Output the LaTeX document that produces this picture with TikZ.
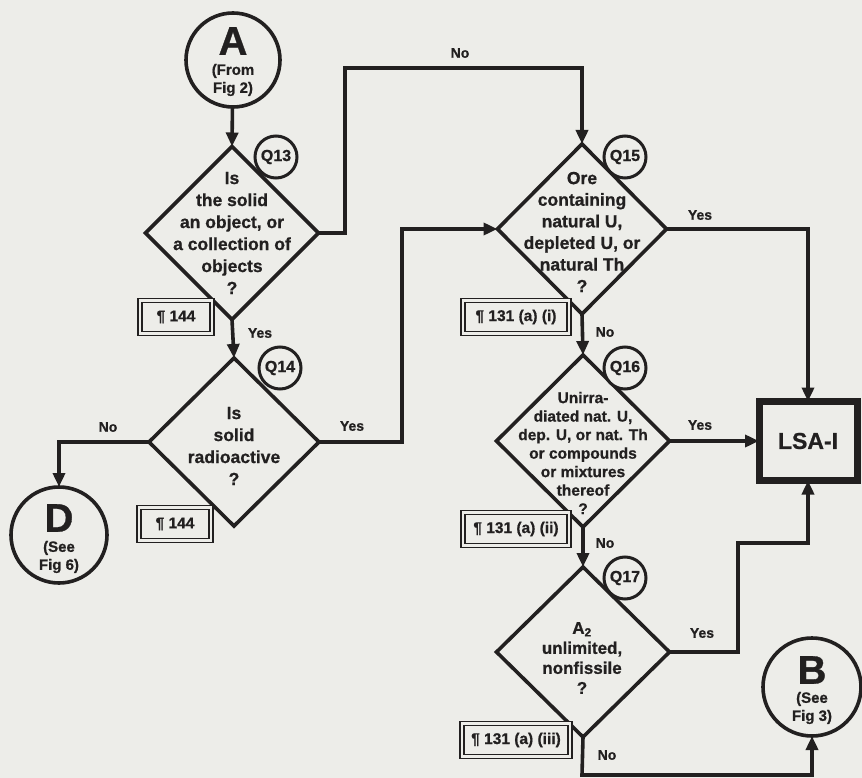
\documentclass[tikz,border=0pt]{standalone}
\usepackage{fontspec}
\setmainfont{Liberation Sans}[BoldFeatures={FakeBold=0.8}]
\usetikzlibrary{shapes.geometric,arrows.meta}
\definecolor{ink}{RGB}{34,32,32}
\definecolor{paper}{RGB}{237,237,233}
\begin{document}
\begin{tikzpicture}[x=1pt,y=-1pt,
  every node/.style={text=ink},
  flow/.style={draw=ink, line width=3.6pt},
  arr/.style={flow,-{Triangle[length=14pt,width=12pt]}},
  dia/.style={diamond, draw=ink, line width=3.6pt, inner sep=0pt, outer sep=0pt},
  qtxt/.style={align=center, inner sep=0pt},
  qnum/.style={circle, draw=ink, line width=3pt, fill=paper, minimum size=42pt, inner sep=0pt, font=\bfseries\fontsize{16}{16}\selectfont},
  term/.style={circle, draw=ink, line width=3.6pt, inner sep=0pt, outer sep=0pt},
  bigletter/.style={inner sep=0pt, font=\bfseries\fontsize{40}{40}\selectfont},
  termnote/.style={inner sep=0pt, align=center, font=\bfseries\fontsize{15}{18}\selectfont},
  refbox/.style={draw=ink, double=paper, double distance=2.2pt, line width=1.7pt, minimum height=33pt, inner sep=0pt, font=\bfseries\fontsize{15.5}{16}\selectfont},
  lbl/.style={font=\bfseries\fontsize{14}{14}\selectfont, inner sep=1pt}
]
\fill[paper] (0,0) rectangle (862,778);
\useasboundingbox (0,0) rectangle (862,778);

% terminals
\node[term, minimum size=94pt] (A) at (233,60) {};
\node[bigletter] (Alet) at (233,41) {A};
\node[termnote] (Anote) at (233,80) {(From\\Fig 2)};

\node[term, minimum size=96pt] (D) at (59,535) {};
\node[bigletter] (Dlet) at (59,518) {D};
\node[termnote] (Dnote) at (59,557) {(See\\Fig 6)};

\node[term, minimum size=98pt] (B) at (812,687) {};
\node[bigletter] (Blet) at (812,670) {B};
\node[termnote] (Bnote) at (812,708) {(See\\Fig 3)};

% diamonds
\node[dia, minimum width=173pt, minimum height=173pt] (d13) at (232,233) {};
\node[dia, minimum width=170pt, minimum height=168pt] (d14) at (234,442) {};
\node[dia, minimum width=169pt, minimum height=170pt] (d15) at (582,229) {};
\node[dia, minimum width=173pt, minimum height=172pt] (d16) at (583,441) {};
\node[dia, minimum width=173pt, minimum height=170pt] (d17) at (583,652) {};

\node[qtxt, font=\bfseries\fontsize{17.5}{22}\selectfont] (t13) at (232,233) {Is\\the solid\\an object, or\\a collection of\\objects\\?};
\node[qtxt, font=\bfseries\fontsize{17.5}{22}\selectfont] (t14) at (234,446) {Is\\solid\\radioactive\\?};
\node[qtxt, font=\bfseries\fontsize{17.5}{21.6}\selectfont] (t15) at (582,232) {Ore\\containing\\natural U,\\depleted U, or\\natural Th\\?};
\node[qtxt, font=\bfseries\fontsize{15.5}{18.5}\selectfont] (t16) at (583,453) {Unirra-\\diated nat. U,\\dep. U, or nat. Th\\or compounds\\or mixtures\\thereof\\?};
\node[qtxt, font=\bfseries\fontsize{17}{20}\selectfont] (t17) at (582,658) {A\textsubscript{2}\\unlimited,\\nonfissile\\?};

% question numbers
\node[qnum] (q13) at (276,157) {Q13};
\node[qnum] (q14) at (280,368) {Q14};
\node[qnum] (q15) at (625,157) {Q15};
\node[qnum] (q16) at (625,368) {Q16};
\node[qnum] (q17) at (625,578) {Q17};

% result
\node[draw=ink, line width=7pt, minimum width=98pt, minimum height=79pt, inner sep=0pt, outer sep=0pt, font=\bfseries\fontsize{23}{23}\selectfont] (lsa) at (808,441) {LSA-I};

% reference boxes
\node[refbox, minimum width=72pt] (p144a) at (176,317) {¶ 144};
\node[refbox, minimum width=72pt] (p144b) at (175,524) {¶ 144};
\node[refbox, minimum width=106pt] (p131i) at (516,317) {¶ 131 (a) (i)};
\node[refbox, minimum width=106pt] (p131ii) at (516,529) {¶ 131 (a) (ii)};
\node[refbox, minimum width=108pt] (p131iii) at (516,740) {¶ 131 (a) (iii)};

% helper coordinates
\coordinate (c1) at (345,68);
\coordinate (c2) at (402,330);
\coordinate (c3) at (738,543);
\coordinate (c4) at (582,775);

% connectors
\draw[arr] (A) -- (d13.north);
\draw[arr] (d13.south) -- (d14.north);
\draw[arr] (d13.east) -| (c1) -| (d15.north);
\draw[arr] (d14.west) -| (D.north);
\draw[arr] (d14.east) -| (c2) |- (d15.west);
\draw[arr] (d15.east) -| (lsa.north);
\draw[arr] (d15.south) -- (d16.north);
\draw[arr] (d16.east) -- (lsa.west);
\draw[arr] (d16.south) -- (d17.north);
\draw[arr] (d17.east) -| (c3) -| (lsa.south);
\draw[arr] (d17.south) -- (c4) -| (B.south);

% labels
\node[lbl] (l1) at (460,53) {No};
\node[lbl] (l2) at (260,333) {Yes};
\node[lbl] (l3) at (108,427) {No};
\node[lbl] (l4) at (352,426) {Yes};
\node[lbl] (l5) at (700,215) {Yes};
\node[lbl] (l6) at (605,332) {No};
\node[lbl] (l7) at (700,425) {Yes};
\node[lbl] (l8) at (605,543) {No};
\node[lbl] (l9) at (702,633) {Yes};
\node[lbl] (l10) at (607,755) {No};
\end{tikzpicture}
\end{document}
